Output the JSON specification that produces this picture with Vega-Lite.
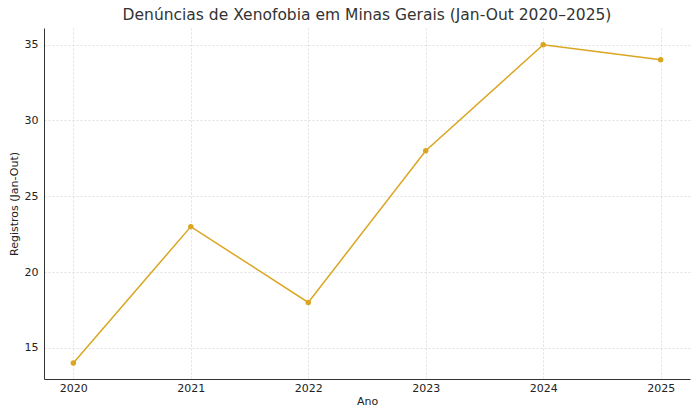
{
  "$schema": "https://vega.github.io/schema/vega-lite/v6.json",
  "autosize": {"type": "none"},
  "padding": {"left": 44, "top": 28, "right": 10, "bottom": 41},
  "width": 646,
  "height": 351,
  "title": {
    "text": "Denúncias de Xenofobia em Minas Gerais (Jan-Out 2020–2025)",
    "font": "DejaVu Sans",
    "fontSize": 15.5,
    "fontWeight": "normal",
    "color": "#333333",
    "offset": 5
  },
  "config": {
    "view": {"stroke": null},
    "axis": {
      "labelFont": "DejaVu Sans",
      "titleFont": "DejaVu Sans",
      "labelFontSize": 11,
      "titleFontSize": 11,
      "titleFontWeight": "normal",
      "labelColor": "#222222",
      "titleColor": "#222222",
      "domainColor": "#333333",
      "domainWidth": 1,
      "ticks": false,
      "gridColor": "#d4d4d4",
      "gridDash": [2, 2],
      "gridWidth": 0.7
    }
  },
  "data": {
    "values": [
      {"ano": 2020, "registros": 14},
      {"ano": 2021, "registros": 23},
      {"ano": 2022, "registros": 18},
      {"ano": 2023, "registros": 28},
      {"ano": 2024, "registros": 35},
      {"ano": 2025, "registros": 34}
    ]
  },
  "encoding": {
    "x": {
      "field": "ano",
      "type": "quantitative",
      "title": "Ano",
      "scale": {"domain": [2019.75, 2025.25], "nice": false, "zero": false},
      "axis": {"values": [2020, 2021, 2022, 2023, 2024, 2025], "format": "d", "labelPadding": 3, "titlePadding": 2}
    },
    "y": {
      "field": "registros",
      "type": "quantitative",
      "title": "Registros (Jan-Out)",
      "scale": {"domain": [12.95, 36.1], "nice": false, "zero": false},
      "axis": {"values": [15, 20, 25, 30, 35], "labelPadding": 6, "titlePadding": 5}
    }
  },
  "layer": [
    {"mark": {"type": "line", "color": "#DAA520", "strokeWidth": 1.5}},
    {"mark": {"type": "point", "filled": true, "color": "#DAA520", "size": 30, "opacity": 1}}
  ]
}
